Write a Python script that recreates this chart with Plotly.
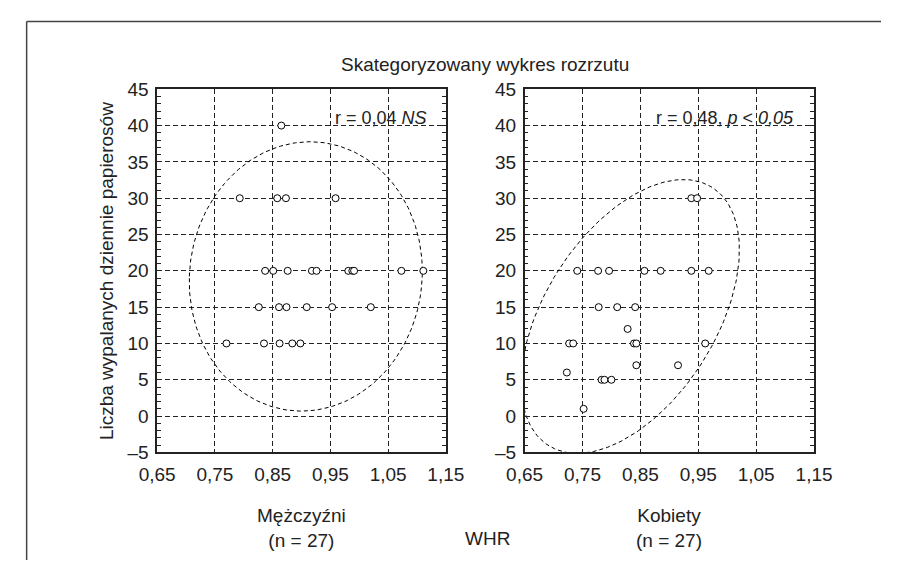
import numpy as np
import plotly.graph_objects as go

# ---------------- data ----------------
men_whr = [0.865,
           0.793, 0.858, 0.873, 0.959,
           0.837, 0.851, 0.876, 0.918, 0.926, 0.981, 0.988, 0.991, 1.073, 1.111,
           0.826, 0.861, 0.874, 0.909, 0.953, 1.020,
           0.770, 0.835, 0.862, 0.884, 0.898]
men_cig = [40,
           30, 30, 30, 30,
           20, 20, 20, 20, 20, 20, 20, 20, 20, 20,
           15, 15, 15, 15, 15, 15,
           10, 10, 10, 10, 10]

women_whr = [0.938, 0.948,
             0.741, 0.777, 0.796, 0.857, 0.885, 0.938, 0.968,
             0.778, 0.810, 0.841,
             0.828,
             0.727, 0.734, 0.839, 0.843, 0.962,
             0.843, 0.915,
             0.723,
             0.783, 0.788, 0.800,
             0.752]
women_cig = [30, 30,
             20, 20, 20, 20, 20, 20, 20,
             15, 15, 15,
             12,
             10, 10, 10, 10, 10,
             7, 7,
             6,
             5, 5, 5,
             1]

x_tick_vals = [0.65, 0.75, 0.85, 0.95, 1.05, 1.15]
x_tick_text = ["0,65", "0,75", "0,85", "0,95", "1,05", "1,15"]
y_tick_vals = [-5, 0, 5, 10, 15, 20, 25, 30, 35, 40, 45]
y_tick_text = ["–5", "0", "5", "10", "15", "20", "25", "30", "35", "40", "45"]

title_text = "Skategoryzowany wykres rozrzutu"
y_title = "Liczba wypalanych dziennie papierosów"
men_label = "Mężczyźni<br>(n = 27)"
women_label = "Kobiety<br>(n = 27)"
x_title = "WHR"
men_stat = "r = 0,04 <i>NS</i>"
women_stat = "r = 0,48, <i>p</i> < <i>0,05</i>"

CHI2_95 = 5.991  # 95% quantile of chi-square with 2 df


def ellipse(x, y, n=240):
    x = np.asarray(x, float)
    y = np.asarray(y, float)
    cov = np.cov(x, y)
    vals, vecs = np.linalg.eigh(cov)
    t = np.linspace(0, 2 * np.pi, n)
    circ = np.vstack([np.cos(t), np.sin(t)])
    pts = vecs @ (np.sqrt(vals * CHI2_95)[:, None] * circ)
    return x.mean() + pts[0], y.mean() + pts[1]


FONT = "Liberation Sans, Arial, sans-serif"
TXT = "#222"

fig = go.Figure()

for i, (xs, ys) in enumerate([(men_whr, men_cig), (women_whr, women_cig)]):
    xa = "x" if i == 0 else "x2"
    ya = "y" if i == 0 else "y2"
    ex, ey = ellipse(xs, ys)
    fig.add_trace(go.Scatter(x=ex, y=ey, mode="lines", xaxis=xa, yaxis=ya,
                             line=dict(color="black", width=1, dash="4px,3px"),
                             hoverinfo="skip", showlegend=False))
    fig.add_trace(go.Scatter(x=xs, y=ys, mode="markers", xaxis=xa, yaxis=ya,
                             marker=dict(symbol="circle", size=7, color="white",
                                         line=dict(color="black", width=1)),
                             showlegend=False, cliponaxis=False))

W, H = 899, 571
L1, R1 = 145, 445.7
L2, R2 = 527.7, 829.3
TOP, BOT = 82.3, 459.3

xcommon = dict(range=[0.65, 1.15], tickvals=x_tick_vals, ticktext=x_tick_text,
               showgrid=True, gridcolor="#222", griddash="5px,3px", gridwidth=1,
               showline=True, linecolor="#222", linewidth=1.5, mirror=True,
               ticks="", zeroline=False, ticklabelstandoff=4,
               tickfont=dict(family=FONT, size=19, color=TXT))
ycommon = dict(range=[-5, 45], tickvals=y_tick_vals, ticktext=y_tick_text,
               showgrid=True, gridcolor="#222", griddash="5px,3px", gridwidth=1,
               showline=True, linecolor="#222", linewidth=1.5, mirror="allticks",
               ticks="inside", ticklen=4, tickcolor="#222", zeroline=False,
               ticklabelstandoff=3,
               minor=dict(ticks="inside", ticklen=4, dtick=1, tick0=-5,
                          tickcolor="#222", showgrid=False),
               tickfont=dict(family=FONT, size=19, color=TXT))

fig.update_layout(
    width=W, height=H,
    margin=dict(l=0, r=0, t=0, b=0),
    paper_bgcolor="white", plot_bgcolor="white",
    xaxis=dict(domain=[L1 / W, R1 / W], anchor="y", **xcommon),
    yaxis=dict(domain=[1 - BOT / H, 1 - TOP / H], anchor="x", **ycommon),
    xaxis2=dict(domain=[L2 / W, R2 / W], anchor="y2", **xcommon),
    yaxis2=dict(domain=[1 - BOT / H, 1 - TOP / H], anchor="x2", **ycommon),
)


def px_x(p):
    return p / W


def px_y(p):
    return 1 - p / H


# outer frame (cropped box: left and top edges)
fig.add_shape(type="line", xref="paper", yref="paper",
              x0=px_x(9), x1=px_x(9), y0=0, y1=px_y(12),
              line=dict(color="#444", width=1.5), layer="below")
fig.add_shape(type="line", xref="paper", yref="paper",
              x0=px_x(9), x1=1, y0=px_y(12), y1=px_y(12),
              line=dict(color="#444", width=1.5), layer="below")

ann_font = dict(family=FONT, size=18, color=TXT)
lab_font = dict(family=FONT, size=19, color=TXT)

fig.add_annotation(text=title_text, x=px_x(487), y=px_y(57), xref="paper", yref="paper",
                   showarrow=False, font=lab_font, xanchor="center", yanchor="middle")
fig.add_annotation(text=y_title, x=px_x(93), y=px_y(270.8), xref="paper", yref="paper",
                   showarrow=False, textangle=-90, font=lab_font,
                   xanchor="center", yanchor="middle")
fig.add_annotation(text=men_stat, x=1.12, y=40, xref="x", yref="y", showarrow=False,
                   xanchor="right", yanchor="bottom", yshift=-4, font=ann_font)
fig.add_annotation(text=women_stat, x=1.118, y=40, xref="x2", yref="y2", showarrow=False,
                   xanchor="right", yanchor="bottom", yshift=-4, font=ann_font)
fig.add_annotation(text=men_label, x=px_x(295), y=px_y(538), xref="paper", yref="paper",
                   showarrow=False, font=lab_font, xanchor="center", yanchor="middle")
fig.add_annotation(text=women_label, x=px_x(678), y=px_y(538), xref="paper", yref="paper",
                   showarrow=False, font=lab_font, xanchor="center", yanchor="middle")
fig.add_annotation(text=x_title, x=px_x(489), y=px_y(549), xref="paper", yref="paper",
                   showarrow=False, font=lab_font, xanchor="center", yanchor="middle")

fig.write_html("out.html", config={"displayModeBar": False},
               post_script="document.body.style.margin='0';"
                           "document.body.style.padding='0';"
                           "document.body.style.overflow='hidden';")
